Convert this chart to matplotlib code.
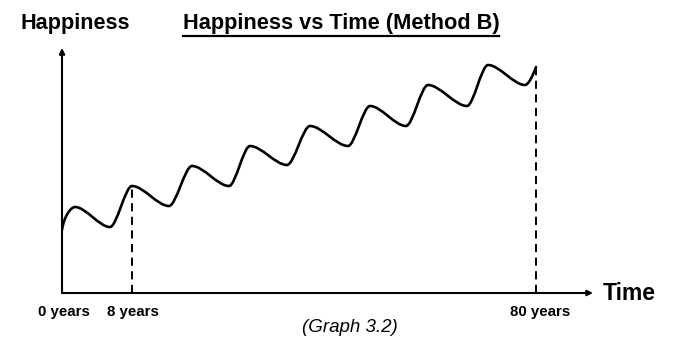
import matplotlib
matplotlib.use("Agg")
import matplotlib.pyplot as plt
from matplotlib.path import Path
from matplotlib.patches import PathPatch
from matplotlib.lines import Line2D

# ---- data (arbitrary schematic units) ----
time_pts = [0, 13, 48, 70, 107, 130, 167, 188, 225, 248, 286, 308, 344, 366, 405, 426, 463, 474]
happiness_pts = [63, 86, 66, 107, 87, 127, 107, 147, 128, 167, 147, 187, 167, 208, 187, 228, 208, 226]
tick_times = [0, 70, 474]
tick_labels = ["0 years", "8 years", "80 years"]
marker_times = [70, 474]
marker_happiness = [107, 226]

W, H = 682, 354
fig = plt.figure(figsize=(W / 100, H / 100), dpi=100)
ax_left, ax_right, ax_top, ax_bottom = 62, 593, 48, 293
ax = fig.add_axes([ax_left / W, 1 - ax_bottom / H, (ax_right - ax_left) / W, (ax_bottom - ax_top) / H])
ax.set_xlim(0, ax_right - ax_left)
ax.set_ylim(0, ax_bottom - ax_top)
ax.axis("off")

# smooth curve through the extrema using cubic Bezier segments
k = 0.31
verts = [(time_pts[0], happiness_pts[0])]
codes = [Path.MOVETO]
n = len(time_pts)
for i in range(n - 1):
    x0, y0 = time_pts[i], happiness_pts[i]
    x1, y1 = time_pts[i + 1], happiness_pts[i + 1]
    dx = x1 - x0
    if i == 0:
        c1 = (x0 + dx * 0.15, y0 + (y1 - y0) * 0.6)
    else:
        c1 = (x0 + dx * k, y0)
    if i == n - 2:
        c2 = (x1 - dx * 0.3, y1 - (y1 - y0) * 0.5)
    else:
        c2 = (x1 - dx * k, y1)
    verts += [c1, c2, (x1, y1)]
    codes += [Path.CURVE4, Path.CURVE4, Path.CURVE4]
ax.add_patch(PathPatch(Path(verts, codes), facecolor="none", edgecolor="black",
                       lw=1.9, capstyle="round", joinstyle="round"))

# dashed markers
for t, h in zip(marker_times, marker_happiness):
    ax.plot([t, t], [0, h], color="black", lw=1.4, ls=(0, (4.2, 2.8)))

# axes with arrows
ax.annotate("", xy=(ax_right - ax_left, 0), xytext=(0, 0),
            arrowprops=dict(arrowstyle="-|>", color="black", lw=1.5,
                            mutation_scale=8, shrinkA=0, shrinkB=0))
ax.annotate("", xy=(0, ax_bottom - ax_top), xytext=(0, 0),
            arrowprops=dict(arrowstyle="-|>", color="black", lw=1.5,
                            mutation_scale=8, shrinkA=0, shrinkB=0))

# tick labels
fam = ["Liberation Sans", "DejaVu Sans"]
offsets = [2, 1, 4]
for t, lab, off in zip(tick_times, tick_labels, offsets):
    ax.text(t + off, -19, lab, ha="center", va="center", fontsize=10.8,
            fontweight="bold", family=fam)

fig.text(603 / W, 1 - 293 / H, "Time", ha="left", va="center", fontsize=16.5,
         fontweight="bold", family=fam)
fig.text(20 / W, 1 - 24 / H, "Happiness", ha="left", va="center", fontsize=15.6,
         fontweight="bold", family=fam)
title = fig.text(0.5, 1 - 24 / H, "Happiness vs Time (Method B)", ha="center",
                 va="center", fontsize=15.7, fontweight="bold", family=fam)
fig.text(350 / W, 1 - 327 / H, "(Graph 3.2)", ha="center", va="center",
         fontsize=13.5, style="italic", family=fam)

# underline for the title
fig.canvas.draw()
bb = title.get_window_extent()
y_ul = bb.y0 - 1
fig.add_artist(Line2D([bb.x0 / W, bb.x1 / W], [y_ul / H, y_ul / H],
                      transform=fig.transFigure, color="black", lw=1.6))

fig.savefig("out.png", dpi=100, facecolor="white")
